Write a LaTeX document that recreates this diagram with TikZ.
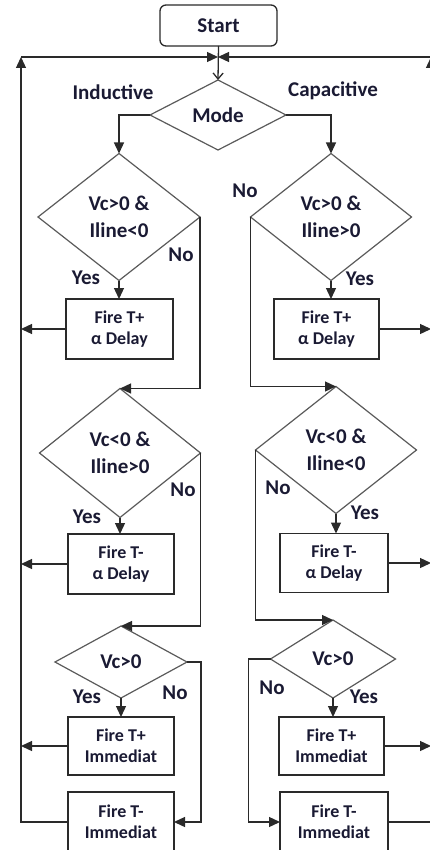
\documentclass[tikz,border=0pt]{standalone}
\usepackage{fontspec}
\setmainfont{Carlito}
\usetikzlibrary{shapes.geometric,arrows.meta,calc}
\definecolor{txt}{HTML}{1A1A33}
\definecolor{ln}{HTML}{2A2A2A}
\definecolor{dline}{HTML}{5A5A5A}
\begin{document}
\begin{tikzpicture}[x=1pt,y=-1pt,
  dec/.style={diamond, draw=dline, line width=1.2pt, inner sep=0pt, outer sep=0pt, align=center, font=\fontsize{21}{27}\selectfont\bfseries, text=txt},
  act/.style={rectangle, draw=ln, line width=1.3pt, inner sep=0pt, outer sep=0pt, align=center, font=\fontsize{18}{21}\selectfont\bfseries, text=txt},
  lbl/.style={font=\fontsize{21}{24}\selectfont\bfseries, text=txt, inner sep=0pt},
  conn/.style={draw=ln, line width=1.3pt},
  arr/.style={conn, -{Triangle[length=11pt,width=10pt]}},
]
\useasboundingbox (0,0) rectangle (430,850);
\clip (0,0) rectangle (430,850);

% nodes
\node[act, rounded corners=6pt, minimum width=117pt, minimum height=41pt, font=\fontsize{21}{24}\selectfont\bfseries] (start) at (218.5,25.5) {Start};
\coordinate (m) at (218,57);
\coordinate (lbus) at (21,57);
\coordinate (rbus) at (431,57);
\node[dec, minimum width=136pt, minimum height=70pt] (mode) at (218,115) {Mode};

\node[dec, minimum width=162pt, minimum height=127pt] (L1) at (119,217) {Vc>0 \&\\Iline<0};
\node[dec, minimum width=161pt, minimum height=127pt] (R1) at (331,217) {Vc>0 \&\\Iline>0};
\node[dec, minimum width=161pt, minimum height=129pt] (L2) at (120,453) {Vc<0 \&\\Iline>0};
\node[dec, minimum width=161pt, minimum height=127pt] (R2) at (336,450) {Vc<0 \&\\Iline<0};
\node[dec, minimum width=132pt, minimum height=72pt] (L3) at (121,662) {Vc>0};
\node[dec, minimum width=125pt, minimum height=78pt] (R3) at (333,659) {Vc>0};

\node[act, minimum width=107pt, minimum height=60pt] (LB1) at (119.5,329) {Fire T+\\α Delay};
\node[act, minimum width=105pt, minimum height=60pt] (RB1) at (326.5,329) {Fire T+\\α Delay};
\node[act, minimum width=106pt, minimum height=60pt] (LB2) at (121,564) {Fire T-\\α Delay};
\node[act, minimum width=108pt, minimum height=59pt] (RB2) at (334,563) {Fire T-\\α Delay};
\node[act, minimum width=106pt, minimum height=58pt] (LB3) at (121,746) {Fire T+\\Immediat};
\node[act, minimum width=105pt, minimum height=58pt] (RB3) at (331.5,746) {Fire T+\\Immediat};
\node[act, minimum width=106pt, minimum height=60pt] (LB4) at (121,822) {Fire T-\\Immediat};
\node[act, minimum width=108pt, minimum height=60pt] (RB4) at (334,822) {Fire T-\\Immediat};

% labels
\node[lbl] (lind) at (113,92) {Inductive};
\node[lbl] (lcap) at (333,91) {Capacitive};
\node[lbl] (n1) at (181,255) {No};
\node[lbl] (y1) at (86,278) {Yes};
\node[lbl] (n2) at (245,191) {No};
\node[lbl] (y2) at (360,279) {Yes};
\node[lbl] (n3) at (183,490) {No};
\node[lbl] (y3) at (87,517) {Yes};
\node[lbl] (n4) at (278,488) {No};
\node[lbl] (y4) at (365,513) {Yes};
\node[lbl] (n5) at (175,693) {No};
\node[lbl] (y5) at (87,697) {Yes};
\node[lbl] (n6) at (272,688) {No};
\node[lbl] (y6) at (364,697) {Yes};

% connectors
\draw[conn, -{Straight Barb[length=6pt,width=10pt]}] (start.south) -- (mode.north);
\draw[arr] (LB4.west) -| (lbus);
\draw[arr] (lbus) -- (m);
\draw[arr] (RB4.east) -| (rbus);
\draw[arr] (rbus) -- (m);

\draw[arr] (mode.west) -| (L1.north);
\draw[arr] (mode.east) -| (R1.north);

\draw[arr] (L1.south) -- (L1.south |- LB1.north);
\draw[arr] (R1.south) -- (R1.south |- RB1.north);
\draw[arr] (L2.south) -- (L2.south |- LB2.north);
\draw[arr] (R2.south) -- (R2.south |- RB2.north);
\draw[arr] (L3.south) -- (L3.south |- LB3.north);
\draw[arr] (R3.south) -- (R3.south |- RB3.north);

\draw[arr] (LB1.west) -- (LB1.west -| lbus);
\draw[arr] (LB2.west) -- (LB2.west -| lbus);
\draw[arr] (LB3.west) -- (LB3.west -| lbus);
\draw[arr] (RB1.east) -- (RB1.east -| rbus);
\draw[arr] (RB2.east) -- (RB2.east -| rbus);
\draw[arr] (RB3.east) -- (RB3.east -| rbus);

\draw[arr] (L1.east) |- (L2.north);
\draw[arr] (L2.east) |- (L3.north);
\draw[arr] (L3.east) -- ++(14,0) |- (LB4.east);
\draw[arr] (R1.west) |- (R2.north);
\draw[arr] (R2.west) |- (R3.north);
\draw[arr] (R3.west) -- ++(-22,0) |- (RB4.west);
\end{tikzpicture}
\end{document}
